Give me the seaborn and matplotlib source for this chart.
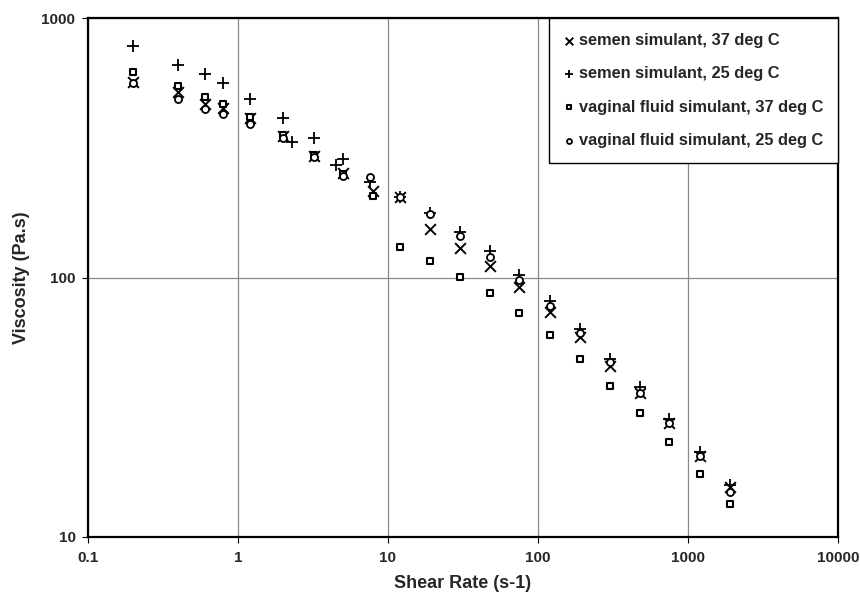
import matplotlib
matplotlib.use("Agg")
import matplotlib.pyplot as plt
import seaborn as sns
from matplotlib.ticker import FixedLocator, FixedFormatter, NullLocator

# Shear rates (1/s) and viscosities (Pa.s)
rate = [0.2, 0.4, 0.6, 0.8, 1.2, 2.0, 3.2, 5.0, 8.0, 12, 19, 30, 48, 75,
        120, 190, 300, 480, 750, 1200, 1900]
semen_37 = [566, 521, 467, 452, 412, 353, 295, 254, 215, 204, 154, 130, 110.6,
            92, 74, 59.3, 45.7, 35.9, 27.4, 20.5, 15.6]

rate_semen_25 = [0.2, 0.4, 0.6, 0.8, 1.2, 2.0, 2.3, 3.2, 4.5, 5.0, 7.6, 12, 19,
                 30, 48, 75, 120, 190, 300, 480, 750, 1200, 1900]
semen_25 = [782, 662, 610, 562, 489, 412, 332, 347, 272, 287, 234, 204, 178,
            150, 126.5, 102.5, 81, 63.4, 48.5, 37.8, 28.5, 21.2, 15.8]

vaginal_37 = [622, 550, 499, 467, 418, 355, 297, 250, 207, 131.6, 116, 101, 87,
              73.3, 60.2, 48.5, 38.3, 30.1, 23.2, 17.5, 13.4]

rate_vaginal_25 = [0.2, 0.4, 0.6, 0.8, 1.2, 2.0, 3.2, 5.0, 7.6, 12, 19, 30, 48,
                   75, 120, 190, 300, 480, 750, 1200, 1900]
vaginal_25 = [562, 487, 446, 428, 391, 345, 293, 247, 245, 204, 176, 145, 120.6,
              98, 77.8, 61.1, 47.1, 35.9, 27.4, 20.5, 14.9]

labels = ["semen simulant, 37 deg C", "semen simulant, 25 deg C",
          "vaginal fluid simulant, 37 deg C", "vaginal fluid simulant, 25 deg C"]

x_ticks = [0.1, 1, 10, 100, 1000, 10000]
x_tick_labels = ["0.1", "1", "10", "100", "1000", "10000"]
y_ticks = [10, 100, 1000]
y_tick_labels = ["10", "100", "1000"]

sns.set_style("white")
plt.rcParams["font.family"] = ["Liberation Sans", "DejaVu Sans"]
plt.rcParams["font.weight"] = "bold"

fig, ax = plt.subplots(figsize=(8.6, 5.98), dpi=100)
fig.subplots_adjust(left=88 / 860, right=838 / 860, top=1 - 18.3 / 598, bottom=1 - 537 / 598)

sns.scatterplot(x=rate, y=semen_37, marker="x", color="black", s=60,
                linewidth=1.4, label=labels[0], ax=ax, zorder=3)
sns.scatterplot(x=rate_semen_25, y=semen_25, marker="+", color="black", s=75,
                linewidth=1.3, label=labels[1], ax=ax, zorder=3)
sns.scatterplot(x=rate, y=vaginal_37, marker="s", facecolors="white",
                edgecolors="black", s=22, linewidth=1.5, label=labels[2], ax=ax, zorder=3)
sns.scatterplot(x=rate_vaginal_25, y=vaginal_25, marker="o", facecolors="white",
                edgecolors="black", s=26, linewidth=1.3, label=labels[3], ax=ax, zorder=3)

ax.set_xscale("log")
ax.set_yscale("log")
ax.set_xlim(0.1, 10000)
ax.set_ylim(10, 1000)
ax.xaxis.set_major_locator(FixedLocator(x_ticks))
ax.xaxis.set_major_formatter(FixedFormatter(x_tick_labels))
ax.yaxis.set_major_locator(FixedLocator(y_ticks))
ax.yaxis.set_major_formatter(FixedFormatter(y_tick_labels))
ax.xaxis.set_minor_locator(NullLocator())
ax.yaxis.set_minor_locator(NullLocator())

ax.grid(True, which="major", color="#8a8a8a", linewidth=0.9)
for side in ax.spines.values():
    side.set_color("black")
    side.set_linewidth(1.6)
    side.set_zorder(4)

ax.tick_params(axis="both", which="major", direction="out", length=4, width=0.8,
               color="black", bottom=True, left=True)
ax.tick_params(axis="x", labelsize=11, pad=6)
ax.tick_params(axis="y", labelsize=11, pad=5)
for t in ax.get_xticklabels() + ax.get_yticklabels():
    t.set_fontweight("bold")

ax.set_xlabel("Shear Rate (s-1)", fontsize=13, fontweight="bold", labelpad=7)
ax.set_ylabel("Viscosity (Pa.s)", fontsize=13, fontweight="bold", labelpad=8)

leg = ax.legend(loc="upper right", borderaxespad=0, frameon=True, fancybox=False,
                edgecolor="black", labelspacing=1.12,
                handlelength=0.6, handletextpad=0.3, borderpad=0.9,
                markerscale=0.7, prop={"weight": "bold", "size": 11.8})
leg.get_frame().set_linewidth(1.0)
leg.get_frame().set_alpha(1)
leg.set_zorder(5)

fig.savefig("out.png", dpi=100, facecolor="white")
